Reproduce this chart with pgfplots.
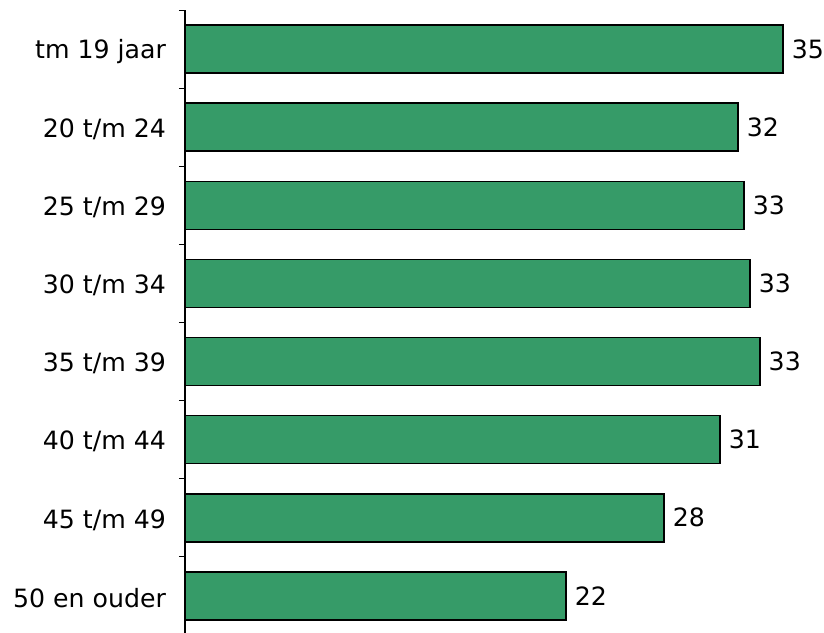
\documentclass[border=0pt]{standalone}
\usepackage{pgfplots}
\pgfplotsset{compat=1.18}
\usepackage{pgfplotstable}
\usepackage{fontspec}
\setmainfont{DejaVu Sans}
\definecolor{barGreen}{RGB}{54,155,104}

% y = slot, top to bottom; value = bar length; label = printed number
\pgfplotstableread{
y value label
0 35.00 35
1 32.37 32
2 32.72 33
3 33.07 33
4 33.65 33
5 31.31 31
6 28.04 28
7 22.30 22
}\agedata

\begin{document}
\begin{tikzpicture}
\useasboundingbox (0,0) rectangle (412pt,316pt);
\begin{axis}[
    at={(92.5pt,-1.5pt)}, anchor=south west,
    scale only axis,
    width=319.5pt, height=312.5pt,
    xmin=0, xmax=37.4,
    ymin=-0.5, ymax=7.5,
    y dir=reverse,
    axis x line=none,
    axis y line*=left,
    axis line style={black, line width=0.6pt},
    ytick={0,...,7},
    yticklabels={tm 19 jaar,20 t/m 24,25 t/m 29,30 t/m 34,35 t/m 39,40 t/m 44,45 t/m 49,50 en ouder},
    major tick length=0pt,
    extra y ticks={-0.5,0.5,...,7.5},
    extra y tick labels={},
    extra y tick style={major tick length=3pt, tick style={black, line width=0.5pt}, tick align=outside},
    yticklabel style={font=\fontsize{12.6}{14}\selectfont, xshift=-6pt, yshift=-1pt},
    clip=false,
]
\addplot[xbar, bar width=24pt, fill=barGreen, draw=black, line width=0.8pt,
    point meta=explicit symbolic,
    nodes near coords,
    nodes near coords style={anchor=west, inner sep=0pt, xshift=4pt, font=\fontsize{12.6}{14}\selectfont}]
    table[x=value, y=y, meta=label] {\agedata};
\end{axis}
\end{tikzpicture}
\end{document}
